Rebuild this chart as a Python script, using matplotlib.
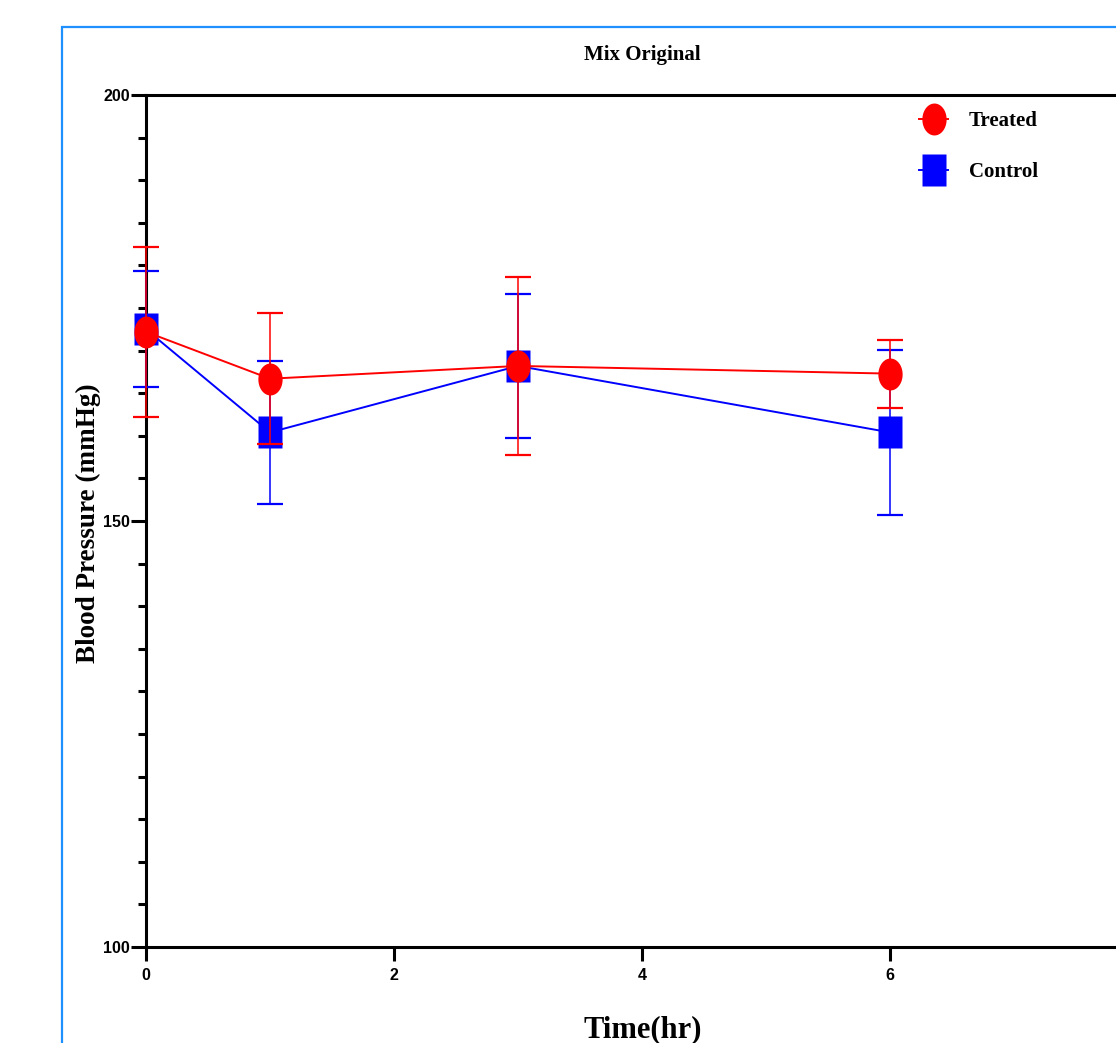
import matplotlib
matplotlib.use("Agg")
import matplotlib.pyplot as plt
import numpy as np
from matplotlib.path import Path
from matplotlib.patches import Rectangle
from matplotlib.lines import Line2D

time_hr = [0, 1, 3, 6]
treated_mean = [172.2, 166.7, 168.2, 167.3]
treated_sd = [10.0, 7.7, 10.4, 4.0]
control_mean = [172.5, 160.4, 168.2, 160.4]
control_sd = [6.8, 8.4, 8.5, 9.7]
x_ticks = [0, 2, 4, 6]
y_ticks = [100, 150, 200]

W, H = 1116, 1043
fig = plt.figure(figsize=(W / 100, H / 100), dpi=100)

# blue frame (extends beyond right/bottom edges)
fig.patches.append(Rectangle((62 / W, -0.05), 1.2, 1 - 27 / H + 0.05,
                             transform=fig.transFigure, fill=False,
                             edgecolor="#1e90ff", linewidth=1.6))

ax = fig.add_axes([146 / W, 1 - 947 / H, 992 / W, 852 / H])

# custom tall markers
t = np.linspace(0, 2 * np.pi, 60)
ellipse = Path(np.column_stack([0.38 * np.cos(t), 0.5 * np.sin(t)]), closed=True)
rect = Path([(-0.38, -0.5), (0.38, -0.5), (0.38, 0.5), (-0.38, 0.5), (-0.38, -0.5)], closed=True)


def draw(mean, sd, color, marker, ms, z):
    cont = ax.errorbar(time_hr, mean, yerr=sd, color=color, lw=1.4,
                       marker=marker, ms=ms, mec="none", capsize=9.7,
                       capthick=1.6, elinewidth=1.1, zorder=z)
    line, caps, bars = cont.lines
    line.set_clip_on(False)
    for c in caps:
        c.set_clip_on(False)
    for b in bars:
        b.set_clip_on(False)


draw(control_mean, control_sd, "#0000ff", rect, 23.5, 3)
draw(treated_mean, treated_sd, "#ff0000", ellipse, 23, 4)

ax.set_xlim(0, 8)
ax.set_ylim(100, 200)
ax.set_xticks(x_ticks)
ax.set_yticks(y_ticks)
ax.set_yticks(np.arange(100, 201, 5), minor=True)

for s in ["left", "top", "bottom", "right"]:
    ax.spines[s].set_linewidth(2.2)
ax.tick_params(axis="y", which="major", length=11, width=2.2, direction="out", pad=0.5)
ax.tick_params(axis="y", which="minor", length=6, width=2.2, direction="out")
ax.tick_params(axis="x", which="major", length=10, width=2.2, direction="out", pad=5)
for lab in ax.get_xticklabels() + ax.get_yticklabels():
    lab.set_fontfamily("Liberation Sans")
    lab.set_fontweight("bold")
    lab.set_fontsize(11.5)

fig.text(642 / W, 1 - 55 / H, "Mix Original", ha="center", va="center",
         family="Liberation Serif", weight="bold", fontsize=15)
fig.text(88 / W, 1 - 523 / H, "Blood Pressure (mmHg)", ha="center", va="center",
         rotation=90, family="Liberation Serif", weight="bold", fontsize=19.5)
fig.text(643 / W, 1 - 1030 / H, "Time(hr)", ha="center", va="center",
         family="Liberation Serif", weight="bold", fontsize=22)

handles = [
    Line2D([], [], color="#ff0000", lw=1.4, marker=ellipse, ms=23, mec="none"),
    Line2D([], [], color="#0000ff", lw=1.4, marker=rect, ms=23.5, mec="none"),
]
leg = fig.legend(handles, ["Treated", "Control"], loc="upper left",
                 bbox_to_anchor=(919 / W, 1 - 111 / H), frameon=False,
                 handlelength=1.4, handletextpad=1.0, labelspacing=1.5,
                 borderaxespad=0, borderpad=0,
                 prop={"family": "Liberation Serif", "weight": "bold", "size": 15})

fig.savefig("out.png", dpi=100)
